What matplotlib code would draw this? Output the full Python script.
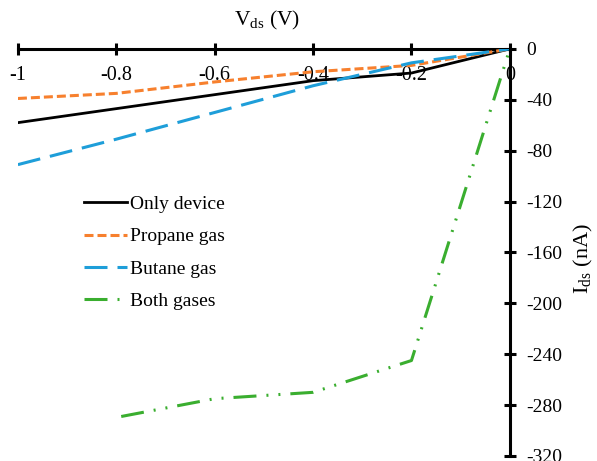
import matplotlib
matplotlib.use("Agg")
import matplotlib.pyplot as plt

plt.rcParams['font.family'] = ['Liberation Serif', 'DejaVu Serif']
plt.rcParams['mathtext.fontset'] = 'custom'
plt.rcParams['mathtext.rm'] = 'Liberation Serif'
plt.rcParams['lines.scale_dashes'] = False

vds = [-1.0, -0.8, -0.6, -0.4, -0.2, 0.0]
only_device = [-58, -47, -36, -25, -19, 0]
propane = [-39, -35, -26, -18, -13, 0]
butane = [-91, -71, -50, -29, -11, 0]
vds_both = [-0.79, -0.6, -0.4, -0.2, 0.0]
both = [-289, -275, -270, -245, 0]

xticks = [-1, -0.8, -0.6, -0.4, -0.2, 0]
xticklabels = ['-1', '-0.8', '-0.6', '-0.4', '-0.2', '0']
yticks = [0, -40, -80, -120, -160, -200, -240, -280, -320]

fig = plt.figure(figsize=(5.97, 4.61), dpi=100)
ax = fig.add_axes([0.030, 0.011, 0.824, 0.883])

k = 0.72
ax.plot(vds, only_device, color='black', lw=2.0, label='Only device')
ax.plot(vds, propane, color='#F7802E', lw=2.2, dashes=(9*k, 4*k), label='Propane gas')
ax.plot(vds, butane, color='#1E9ED9', lw=2.2, dashes=(23*k, 10*k), label='Butane gas')
ax.plot(vds_both, both, color='#3AAE2F', lw=2.2,
        dashes=(23*k, 10*k, 2*k, 10*k, 2*k, 10*k), label='Both gases')

ax.set_xlim(-1, 0)
ax.set_ylim(-320, 0)

for s in ['left', 'top']:
    ax.spines[s].set_visible(False)
ax.spines['bottom'].set_position(('data', 0))
ax.spines['right'].set_position(('data', 0))
for s in ['bottom', 'right']:
    ax.spines[s].set_linewidth(2.2)
    ax.spines[s].set_color('black')
ax.spines['bottom'].set_zorder(1)

ax.yaxis.tick_right()
ax.set_xticks(xticks)
ax.set_xticklabels(xticklabels)
ax.set_yticks(yticks)
ax.set_yticklabels([str(v) for v in yticks])
ax.tick_params(axis='x', direction='inout', length=9, width=2.2, labelsize=14.5, pad=7.5)
ax.tick_params(axis='y', direction='inout', length=9, width=2.2, labelsize=14, pad=7)

fig.text(0.447, 0.955, r'V$_{\mathrm{ds}}$ (V)', fontsize=15.5, ha='center', va='center')
fig.text(0.977, 0.44, r'I$_{\mathrm{ds}}$ (nA)', fontsize=16, ha='center', va='center', rotation=90)

leg = ax.legend(loc='upper left', bbox_to_anchor=(0.118, 0.659), frameon=False, fontsize=14,
                handlelength=2.2, handletextpad=0.2, labelspacing=0.76, borderaxespad=0)

fig.savefig('out.png', dpi=100)
